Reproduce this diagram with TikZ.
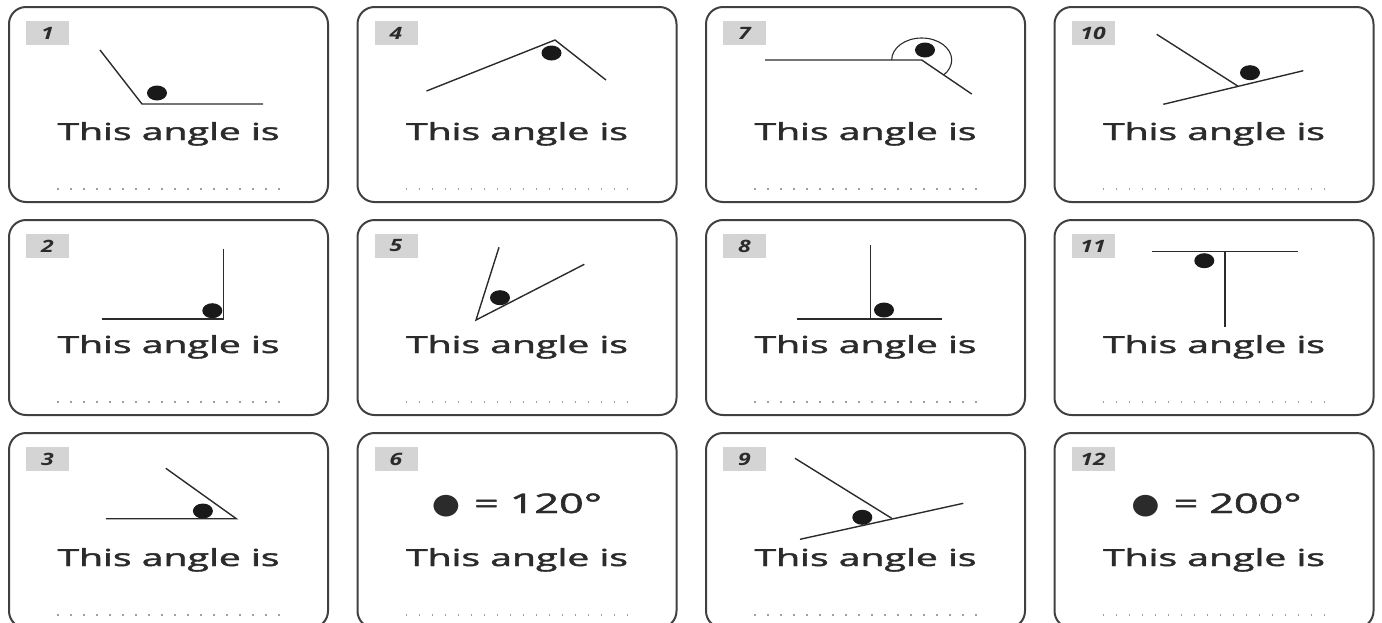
\documentclass[tikz,border=0pt]{standalone}
\usepackage{graphicx}
\usepackage{fontspec}
\setmainfont{Open Sans}
\newfontfamily\heavy{Open Sans}[FakeBold=1.6]
\newfontfamily\symfont{DejaVu Sans}
\usetikzlibrary{positioning,calc}

\definecolor{ink}{HTML}{2B2B2B}
\definecolor{tagfill}{HTML}{D4D4D4}

\begin{document}
\begin{tikzpicture}[x=1pt,y=-1pt,
  card/.style={draw=ink!90,line width=2pt,rounded corners=17pt},
  tagbox/.style={fill=tagfill,minimum width=43pt,minimum height=24pt,inner sep=0pt,
    text=ink,font=\fontsize{17}{19}\selectfont\bfseries\itshape},
  caption/.style={anchor=base,inner sep=0pt,text=ink,font=\heavy\fontsize{23.5}{26}\selectfont},
  value/.style={anchor=base,inner sep=0pt,text=ink,font=\heavy\fontsize{27}{30}\selectfont},
  fillin/.style={draw=gray!75,line width=1.8pt,dash pattern=on 1.8pt off 11.2pt},
  ray/.style={draw=ink,line width=1.4pt},
  spot/.style={fill=black!90}]
\useasboundingbox (0,0) rectangle (1382,622);
\clip (0,0) rectangle (1382,622);
% Cards: 4 columns, 3 rows, numbered down each column
\foreach \cx [count=\c from 0] in {9,357.5,706,1054.5}
  \foreach \cy [count=\r from 0] in {7,220,433}{
    \pgfmathtruncatemacro{\n}{3*\c+\r+1}
    \draw[card] (\cx,\cy) rectangle ++(319,195);
    \node[tagbox] (tag\n) at (\cx+38.5,\cy+26) {\scalebox{1.35}[1]{\n}};
    \node[caption] (cap\n) at (\cx+159.5,\cy+133) {\resizebox{222pt}{\height}{This angle is}};
    \draw[fillin] (\cx+48,\cy+182) -- (\cx+272,\cy+182);
  }
% Card 1
\begin{scope}[shift={(9,7)}]
  \draw[ray] (91,43) -- (133,97) -- (254,97);
  \fill[spot] (148,86) ellipse[x radius=10,y radius=7.5];
\end{scope}
% Card 2
\begin{scope}[shift={(9,220)}]
  \draw[ray] (92.7,99) -- (214.3,99) -- (214.3,29);
  \fill[spot] (203.3,90.7) ellipse[x radius=10,y radius=7.5];
\end{scope}
% Card 3
\begin{scope}[shift={(9,433)}]
  \draw[ray] (97.1,85.7) -- (227.3,85.7) -- (156.8,35.3);
  \fill[spot] (193.9,78) ellipse[x radius=10,y radius=7.5];
\end{scope}
% Card 4
\begin{scope}[shift={(357.5,7)}]
  \draw[ray] (69,84) -- (197.5,33) -- (248.5,73);
  \fill[spot] (194,46) ellipse[x radius=10,y radius=7.5];
\end{scope}
% Card 5
\begin{scope}[shift={(357.5,220)}]
  \draw[ray] (141.5,27.3) -- (118.5,100) -- (226.8,44.3);
  \fill[spot] (142.5,77.7) ellipse[x radius=10,y radius=7.5];
\end{scope}
% Card 6
\node[value] (val6) at (357.5+159.5,433+80)
  {\scalebox{1.2}[1.05]{\symfont ●}\hspace{14pt}\resizebox{128pt}{\height}{= 120°}};
% Card 7: reflex angle with its arc
\begin{scope}[shift={(706,7)}]
  \draw[ray] (59,53) -- (215.7,53) -- (265.7,87);
  \draw[ray,line width=1.1pt] (185.7,53) arc[start angle=180,end angle=403,x radius=30,y radius=22];
  \fill[spot] (219,43) ellipse[x radius=10,y radius=7.5];
\end{scope}
% Card 8
\begin{scope}[shift={(706,220)}]
  \draw[ray] (90.5,99) -- (236.2,99);
  \draw[ray] (164.4,25) -- (164.4,99);
  \fill[spot] (178,90) ellipse[x radius=10,y radius=7.5];
\end{scope}
% Card 9
\begin{scope}[shift={(706,433)}]
  \draw[ray] (89,25.3) -- (185.7,85.3);
  \draw[ray] (94,106.3) -- (257.3,70.3);
  \fill[spot] (156.3,84.3) ellipse[x radius=10,y radius=7.5];
\end{scope}
% Card 10
\begin{scope}[shift={(1054.5,7)}]
  \draw[ray] (102.2,27.3) -- (183.2,79);
  \draw[ray] (108.8,97.3) -- (248.8,63.7);
  \fill[spot] (195.5,65.7) ellipse[x radius=10,y radius=7.5];
\end{scope}
% Card 11
\begin{scope}[shift={(1054.5,220)}]
  \draw[ray] (97.5,31.7) -- (243.3,31.7);
  \draw[ray] (170.3,31.7) -- (170.3,106.7);
  \fill[spot] (149.8,40.7) ellipse[x radius=10,y radius=7.5];
\end{scope}
% Card 12
\node[value] (val12) at (1054.5+162,433+80)
  {\scalebox{1.2}[1.05]{\symfont ●}\hspace{14pt}\resizebox{128pt}{\height}{= 200°}};
\end{tikzpicture}
\end{document}
